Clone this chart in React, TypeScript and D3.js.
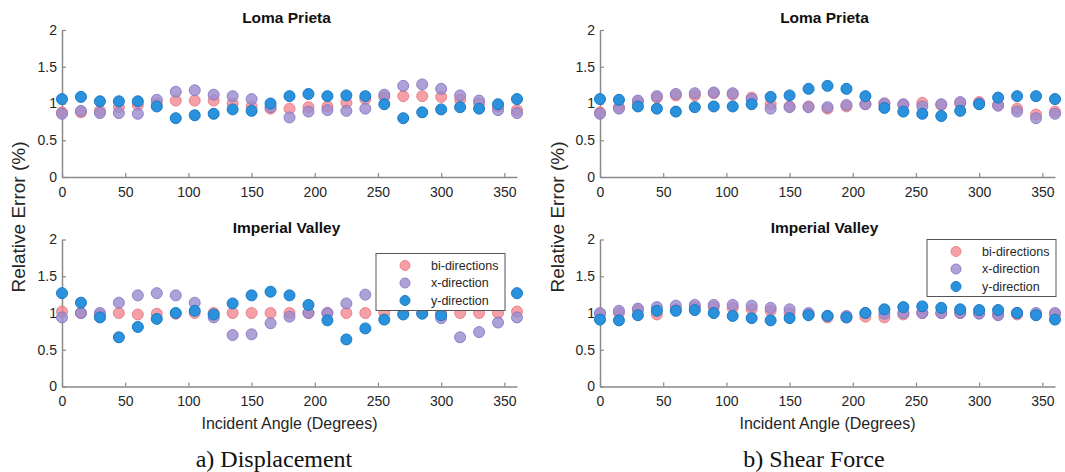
import { useEffect, useRef } from 'react'
import * as d3 from 'd3'

const angles = d3.range(0, 361, 15)

// Loma Prieta - displacement
const lpDispBi = [0.88, 0.88, 0.9, 0.95, 0.98, 1.0, 1.04, 1.04, 1.04, 1.0, 0.96, 0.93, 0.93, 0.95, 0.96, 1.01, 1.06, 1.09, 1.1, 1.1, 1.09, 1.05, 1.0, 0.96, 0.91]
const lpDispX = [0.86, 0.9, 0.87, 0.87, 0.86, 1.05, 1.16, 1.18, 1.12, 1.1, 1.06, 0.95, 0.81, 0.89, 0.91, 0.9, 0.93, 1.12, 1.24, 1.26, 1.2, 1.11, 1.04, 0.91, 0.87]
const lpDispY = [1.06, 1.09, 1.03, 1.03, 1.03, 0.96, 0.8, 0.84, 0.86, 0.92, 0.9, 1.0, 1.1, 1.13, 1.1, 1.11, 1.1, 0.99, 0.8, 0.88, 0.92, 0.95, 0.93, 0.99, 1.06]

// Imperial Valley - displacement
const ivDispBi = [1.02, 1.0, 0.98, 1.0, 0.98, 0.99, 0.99, 1.0, 1.0, 1.0, 1.0, 1.0, 1.0, 1.0, 1.0, 1.0, 1.0, 1.0, 1.0, 1.0, 1.0, 1.0, 1.0, 1.0, 1.02]
const ivDispX = [0.94, 1.0, 1.0, 1.14, 1.24, 1.27, 1.24, 1.14, 0.94, 0.7, 0.71, 0.86, 0.95, 1.0, 1.0, 1.13, 1.25, 1.27, 1.24, 1.14, 0.93, 0.67, 0.74, 0.87, 0.94]
const ivDispY = [1.27, 1.14, 0.94, 0.67, 0.81, 0.92, 1.0, 1.03, 0.98, 1.13, 1.24, 1.29, 1.24, 1.11, 0.9, 0.64, 0.79, 0.91, 0.98, 0.99, 0.97, 1.13, 1.24, 1.29, 1.27]

// Loma Prieta - shear force
const lpShearBi = [0.88, 0.95, 1.02, 1.08, 1.11, 1.11, 1.14, 1.12, 1.08, 0.99, 0.96, 0.96, 0.93, 0.96, 0.99, 1.0, 0.98, 1.01, 0.98, 1.0, 1.02, 0.98, 0.93, 0.85, 0.89]
const lpShearX = [0.86, 0.93, 1.04, 1.1, 1.13, 1.14, 1.15, 1.14, 1.06, 0.93, 0.95, 0.95, 0.95, 0.98, 0.99, 1.0, 0.99, 0.96, 0.99, 1.02, 1.0, 0.97, 0.89, 0.8, 0.86]
const lpShearY = [1.06, 1.05, 0.96, 0.93, 0.89, 0.95, 0.96, 0.96, 0.99, 1.09, 1.11, 1.2, 1.24, 1.2, 1.1, 0.94, 0.89, 0.86, 0.83, 0.9, 0.99, 1.08, 1.1, 1.1, 1.06]

// Imperial Valley - shear force
const ivShearBi = [0.98, 1.0, 1.04, 0.98, 1.05, 1.08, 1.08, 1.07, 1.05, 1.03, 1.0, 0.98, 0.94, 0.94, 0.95, 0.94, 0.98, 1.0, 1.0, 1.0, 1.0, 0.98, 0.98, 0.98, 0.98]
const ivShearX = [1.0, 1.03, 1.06, 1.08, 1.1, 1.11, 1.11, 1.11, 1.1, 1.07, 1.05, 1.0, 0.96, 0.96, 1.0, 0.99, 1.0, 1.0, 1.0, 1.0, 0.99, 0.97, 1.0, 1.0, 1.0]
const ivShearY = [0.91, 0.9, 0.97, 1.03, 1.03, 1.04, 1.0, 0.96, 0.93, 0.9, 0.93, 0.97, 0.96, 0.94, 1.0, 1.05, 1.08, 1.09, 1.07, 1.05, 1.04, 1.04, 1.0, 0.97, 0.91]

const seriesNames = ['bi-directions', 'x-direction', 'y-direction']
const seriesFill = ['rgba(242,128,136,0.75)', 'rgba(155,140,208,0.82)', '#2a92dc']
const seriesStroke = ['rgba(232,112,122,0.8)', 'rgba(135,120,195,0.9)', '#1a78c4']

const xTicks = [0, 50, 100, 150, 200, 250, 300, 350]
const yTicks = [0, 0.5, 1, 1.5, 2]

const panels = [
  { title: 'Loma Prieta', left: 62, right: 517, top: 30, bottom: 177, data: [lpDispBi, lpDispX, lpDispY], legend: false },
  { title: 'Imperial Valley', left: 62, right: 517, top: 239.5, bottom: 386.5, data: [ivDispBi, ivDispX, ivDispY], legend: true, lx: 376, ly: 253.5 },
  { title: 'Loma Prieta', left: 600, right: 1055, top: 30, bottom: 177, data: [lpShearBi, lpShearX, lpShearY], legend: false },
  { title: 'Imperial Valley', left: 600, right: 1055, top: 239.5, bottom: 386.5, data: [ivShearBi, ivShearX, ivShearY], legend: true, lx: 927, ly: 239.5 },
]

export default function App() {
  const ref = useRef<SVGSVGElement>(null)

  useEffect(() => {
    if (!ref.current) return
    const svg = d3.select(ref.current)
    svg.selectAll('*').remove()
    const font = 'Arial, "Liberation Sans", Helvetica, sans-serif'

    panels.forEach((p) => {
      const x = d3.scaleLinear().domain([0, 360]).range([p.left, p.right])
      const y = d3.scaleLinear().domain([0, 2]).range([p.bottom, p.top])
      const g = svg.append('g')

      // x axis, ticks pointing in
      const xa = g
        .append('g')
        .attr('transform', `translate(0,${p.bottom})`)
        .call(d3.axisBottom(x).tickValues(xTicks).tickSizeInner(-4).tickSizeOuter(0).tickPadding(10))
      xa.select('.domain').attr('stroke', '#8a8a8a').attr('stroke-width', 1.5)
      xa.selectAll('.tick line').attr('stroke', '#8a8a8a').attr('stroke-width', 1.2)
      xa.selectAll('.tick text').attr('fill', '#262626').style('font', `14px ${font}`)

      const ya = g
        .append('g')
        .attr('transform', `translate(${p.left},0)`)
        .call(d3.axisLeft(y).tickValues(yTicks).tickFormat(d3.format('~g')).tickSizeInner(-4).tickSizeOuter(0).tickPadding(5))
      ya.select('.domain').attr('stroke', '#8a8a8a').attr('stroke-width', 1.5)
      ya.selectAll('.tick line').attr('stroke', '#8a8a8a').attr('stroke-width', 1.2)
      ya.selectAll('.tick text').attr('fill', '#262626').style('font', `14px ${font}`)

      g.append('text')
        .attr('x', (p.left + p.right) / 2 - 3)
        .attr('y', p.top - 7)
        .attr('text-anchor', 'middle')
        .style('font', `bold 15.5px ${font}`)
        .attr('fill', '#111')
        .text(p.title)

      p.data.forEach((vals, si) => {
        g.append('g')
          .selectAll('circle')
          .data(vals)
          .enter()
          .append('circle')
          .attr('cx', (_, i) => x(angles[i]))
          .attr('cy', (d) => y(d))
          .attr('r', 5.5)
          .attr('fill', seriesFill[si])
          .attr('stroke', seriesStroke[si])
          .attr('stroke-width', 1)
      })

      if (p.legend) {
        const lg = g.append('g').attr('transform', `translate(${p.lx},${p.ly})`)
        lg.append('rect')
          .attr('width', 129)
          .attr('height', 57)
          .attr('fill', '#fff')
          .attr('stroke', '#555')
          .attr('stroke-width', 1)
        seriesNames.forEach((name, si) => {
          lg.append('circle')
            .attr('cx', 29)
            .attr('cy', 12 + si * 17.5)
            .attr('r', 5)
            .attr('fill', seriesFill[si])
            .attr('stroke', seriesStroke[si])
          lg.append('text')
            .attr('x', 55)
            .attr('y', 12 + si * 17.5)
            .attr('dy', '0.35em')
            .style('font', `12.5px ${font}`)
            .attr('fill', '#262626')
            .text(name)
        })
      }

      if (p.top > 100) {
        g.append('text')
          .attr('x', (p.left + p.right) / 2 + 0)
          .attr('y', p.bottom + 42)
          .attr('text-anchor', 'middle')
          .style('font', `16px ${font}`)
          .attr('fill', '#262626')
          .text('Incident Angle (Degrees)')
      }
    })

    // y axis labels
    ;[18, 557].forEach((lx) => {
      svg
        .append('text')
        .attr('transform', `translate(${lx},217) rotate(-90)`)
        .attr('text-anchor', 'middle')
        .attr('dy', '0.35em')
        .style('font', `19px ${font}`)
        .attr('fill', '#262626')
        .text('Relative Error (%)')
    })

    // captions
    const caps = [
      { t: 'a) Displacement', cx: 274 },
      { t: 'b) Shear Force', cx: 814 },
    ]
    caps.forEach((c) => {
      svg
        .append('text')
        .attr('x', c.cx)
        .attr('y', 467)
        .attr('text-anchor', 'middle')
        .style('font', '24px "Liberation Serif", "Times New Roman", serif')
        .attr('fill', '#111')
        .text(c.t)
    })
  }, [])

  return (
    <svg
      ref={ref}
      width={1065}
      height={472}
      style={{ position: 'absolute', left: 0, top: 0, background: '#fff' }}
    />
  )
}
